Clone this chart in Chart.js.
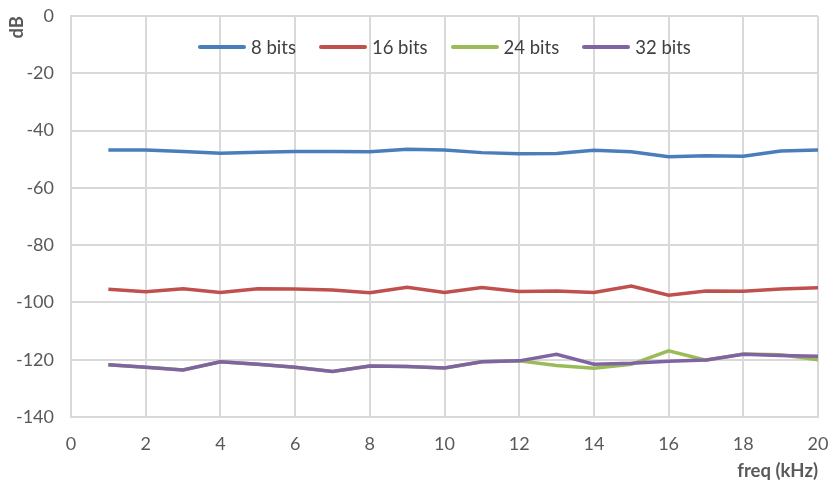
<!DOCTYPE html>
<html>
<head>
<meta charset="utf-8">
<script src="https://cdn.jsdelivr.net/npm/chart.js@4.4.0/dist/chart.umd.min.js"></script>
<style>
  html, body { margin: 0; padding: 0; background: #fff; }
  #wrap { position: relative; width: 832px; height: 483px; }
  #legend {
    position: absolute; top: 36px; left: 198px;
    display: flex; font-family: Lato, "Open Sans", sans-serif;
    font-size: 18.5px; color: #404040;
  }
  .item { display: flex; align-items: center; margin-right: 23px; }
  .swatch { width: 48px; height: 4px; border-radius: 2px; margin-right: 5px; }
</style>
</head>
<body>
<div id="wrap">
  <canvas id="chart" width="832" height="483"></canvas>
  <div id="legend"></div>
</div>
<script>
// Frequency points (kHz)
const freq = [1, 2, 3, 4, 5, 6, 7, 8, 9, 10, 11, 12, 13, 14, 15, 16, 17, 18, 19, 20];

// Noise level per bit depth (dB)
const bits8 = [-46.8, -46.8, -47.3, -47.9, -47.6, -47.3, -47.3, -47.4, -46.5, -46.8,
               -47.7, -48.1, -48.0, -46.9, -47.4, -49.1, -48.8, -49.0, -47.1, -46.8];
const bits16 = [-95.4, -96.3, -95.2, -96.5, -95.2, -95.3, -95.7, -96.6, -94.7, -96.5,
                -94.8, -96.2, -96.0, -96.5, -94.3, -97.5, -96.0, -96.1, -95.3, -94.9];
const bits24 = [-121.8, -122.6, -123.6, -120.7, -121.6, -122.6, -124.1, -122.2, -122.4, -122.9,
                -120.7, -120.4, -122.0, -123.0, -121.6, -116.9, -120.2, -118.0, -118.3, -120.0];
const bits32 = [-121.8, -122.6, -123.6, -120.7, -121.6, -122.6, -124.1, -122.2, -122.4, -122.9,
                -120.7, -120.4, -118.1, -121.6, -121.2, -120.5, -120.1, -118.1, -118.5, -118.8];

const seriesNames = ['8 bits', '16 bits', '24 bits', '32 bits'];
const seriesColors = ['#4a7ebb', '#c0504d', '#9bbb59', '#8064a2'];
const seriesData = [bits8, bits16, bits24, bits32];

const FONT = 'Lato, "Open Sans", sans-serif';
const TEXT = '#595959';
const GRID = '#d9d9d9';

const datasets = seriesData.map((vals, i) => ({
    label: seriesNames[i],
    data: vals.map((v, j) => ({ x: freq[j], y: v })),
    borderColor: seriesColors[i],
    backgroundColor: seriesColors[i],
    borderWidth: 3.5,
    pointRadius: 0,
    tension: 0,
    // later series sit on top
    order: seriesData.length - i
}));

new Chart(document.getElementById('chart'), {
    type: 'line',
    data: { datasets },
    options: {
        responsive: false,
        animation: false,
        layout: { padding: { top: 16, right: 14, left: 0, bottom: 0 } },
        plugins: {
            legend: { display: false },
            tooltip: { enabled: false }
        },
        scales: {
            x: {
                type: 'linear',
                min: 0,
                max: 20,
                ticks: { stepSize: 2, color: TEXT, font: { family: FONT, size: 18 }, padding: 16 },
                grid: { color: GRID, lineWidth: 2, drawTicks: false },
                border: { display: true, color: GRID, width: 2 },
                title: {
                    display: true, text: 'freq (kHz)', align: 'end', color: TEXT,
                    font: { family: FONT, size: 18.5, weight: 'bold' }, padding: { top: 0, bottom: 1 }
                },
                afterFit: s => {
                    s.height = 66;
                    s.paddingLeft = 0;
                    s.paddingRight = 0;
                }
            },
            y: {
                min: -140,
                max: 0,
                ticks: { stepSize: 20, color: TEXT, font: { family: FONT, size: 18 }, padding: 17 },
                grid: { color: GRID, lineWidth: 2, drawTicks: false },
                border: { display: true, color: GRID, width: 2 },
                title: {
                    display: true, text: 'dB', align: 'end', color: TEXT,
                    font: { family: FONT, size: 18.5, weight: 'bold' }, padding: { top: 6, bottom: 0 }
                },
                afterFit: s => {
                    s.width = 71;
                    s.paddingTop = 0;
                    s.paddingBottom = 0;
                }
            }
        }
    }
});

// Legend row drawn over the top of the plot
const legend = document.getElementById('legend');
seriesNames.forEach((name, i) => {
    const item = document.createElement('div');
    item.className = 'item';
    const sw = document.createElement('span');
    sw.className = 'swatch';
    sw.style.background = seriesColors[i];
    const label = document.createElement('span');
    label.textContent = name;
    item.appendChild(sw);
    item.appendChild(label);
    legend.appendChild(item);
});
</script>
</body>
</html>
